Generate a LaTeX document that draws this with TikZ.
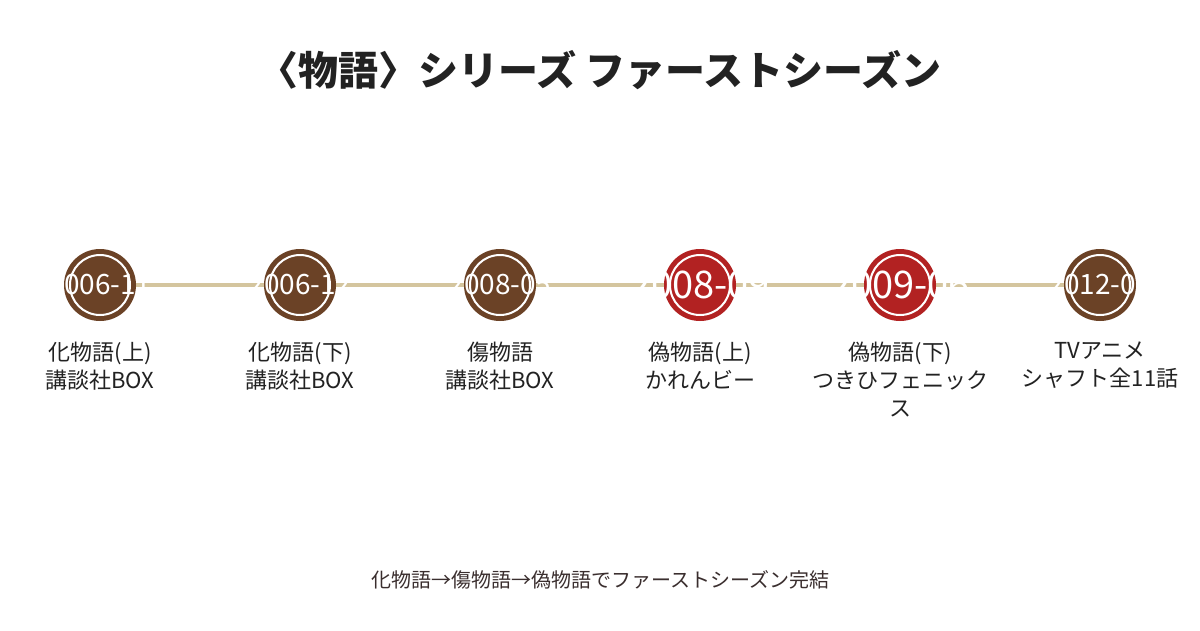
\documentclass[tikz,border=0pt]{standalone}
\usepackage{fontspec}
\setmainfont{Noto Sans CJK JP}
\usetikzlibrary{backgrounds}
\definecolor{evbrown}{HTML}{6B4226}
\definecolor{evred}{HTML}{B22222}
\definecolor{tline}{HTML}{D4C59E}
\definecolor{ink}{HTML}{222222}
\definecolor{foot}{HTML}{3A2E2E}
\begin{document}
\begin{tikzpicture}[x=1pt,y=-1pt,
  evt/.style={circle, fill=evbrown, minimum size=72pt, inner sep=0pt},
  hlt/.style={evt, fill=evred},
  ring/.style={circle, draw=white, line width=2pt, minimum size=60pt, inner sep=0pt},
  date/.style={text=white, inner sep=0pt, font=\fontsize{28}{28}\selectfont},
  hdate/.style={date, font=\fontsize{38}{38}\selectfont},
  lab/.style={text=ink, align=center, anchor=north, inner sep=0pt, font=\fontsize{22}{28}\selectfont},
  tl/.style={draw=tline, line width=4pt}]
\useasboundingbox (0,0) rectangle (1200,630);
\node[font=\fontsize{40}{40}\selectfont\bfseries, text=ink] (title) at (600,70) {〈物語〉シリーズ ファーストシーズン};
\node[evt] (c1) at (100,285) {};
\node[evt] (c2) at (300,285) {};
\node[evt] (c3) at (500,285) {};
\node[hlt] (c4) at (700,285) {};
\node[hlt] (c5) at (900,285) {};
\node[evt] (c6) at (1100,285) {};
\begin{scope}[on background layer]
\fill[white] (0,0) rectangle (1200,630);
\draw[tl] (c1.center) -- (c6.center);
\end{scope}
\foreach \i in {1,...,6} {\node[ring] (r\i) at (c\i) {};}
\node[date] (d1) at (c1) {2006-11};
\node[date] (d2) at (c2) {2006-12};
\node[date] (d3) at (c3) {2008-05};
\node[hdate] (d4) at (c4) {2008-09};
\node[hdate] (d5) at (c5) {2009-06};
\node[date] (d6) at (c6) {2012-01};
\node[lab] (l1) at (100,342) {化物語(上)\\講談社BOX};
\node[lab] (l2) at (300,342) {化物語(下)\\講談社BOX};
\node[lab] (l3) at (500,342) {傷物語\\講談社BOX};
\node[lab] (l4) at (700,342) {偽物語(上)\\かれんビー};
\node[lab] (l5) at (900,342) {偽物語(下)\\つきひフェニック\\ス};
\node[lab] (l6) at (1100,342) {TVアニメ\\シャフト全11話};
\node[text=foot, font=\fontsize{20}{20}\selectfont] (foot) at (600,580) {化物語→傷物語→偽物語でファーストシーズン完結};
\end{tikzpicture}
\end{document}
